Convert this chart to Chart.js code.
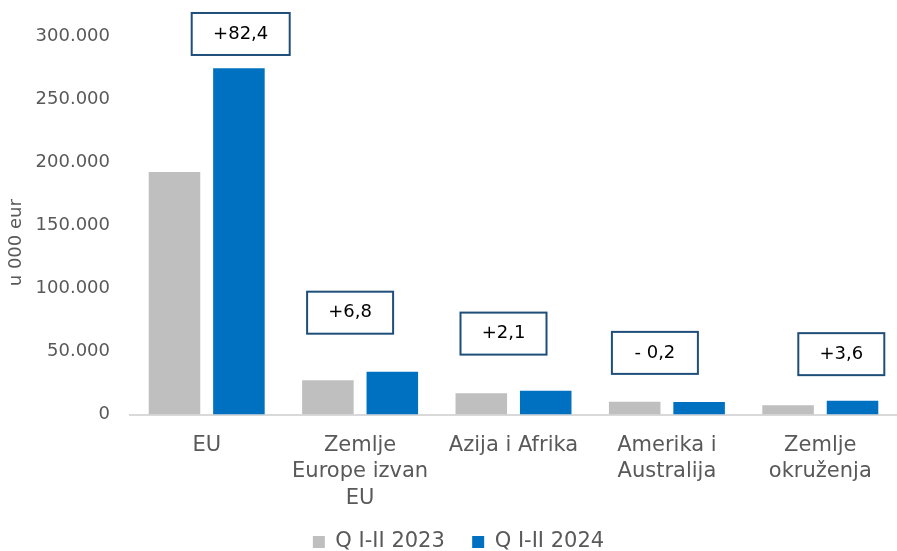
<!DOCTYPE html>
<html>
<head>
<meta charset="utf-8">
<script src="https://cdn.jsdelivr.net/npm/chart.js@4.4.1/dist/chart.umd.min.js"></script>
<style>
  html, body { margin: 0; padding: 0; background: #fff; }
  #wrap { width: 897px; height: 551px; }
</style>
</head>
<body>
<div id="wrap"><canvas id="chart"></canvas></div>
<script>
// regions (multi-line labels as in the original)
var categories = [
    'EU',
    ['Zemlje', 'Europe izvan', 'EU'],
    'Azija i Afrika',
    ['Amerika i', 'Australija'],
    ['Zemlje', 'okruženja']
];
// u 000 eur
var q2023 = [192400, 27100, 16800, 10200, 7300];
var q2024 = [274800, 33900, 18900, 10000, 10900];
var seriesNames = ['Q I-II 2023', 'Q I-II 2024'];
// change labels shown in boxes above each group
var changes = ['+82,4', '+6,8', '+2,1', '- 0,2', '+3,6'];

// where the boxes sit: shift from group centre (px) and height in axis units
var boxShift = [34, -10, -10, -12, 21];
var boxLevel = [302000, 80800, 64200, 48900, 47900];
var boxWidth = [98, 86, 86, 86, 86];

var FONT = "'DejaVu Sans', Verdana, sans-serif";
var grey = '#595959';

function fmt(v) {
    return v.toString().replace(/\B(?=(\d{3})+(?!\d))/g, '.');
}

var changeBoxes = {
    id: 'changeBoxes',
    afterLayout: function(chart) {
        // legend in the original sits a little right of the page centre
        chart.legend.left += 10;
        chart.legend.right += 10;
    },
    afterDatasetsDraw: function(chart) {
        var ctx = chart.ctx;
        var xs = chart.scales.x, ys = chart.scales.y;
        ctx.save();
        ctx.font = '18px ' + FONT;
        ctx.textAlign = 'center';
        ctx.textBaseline = 'middle';
        for (var i = 0; i < changes.length; i++) {
            var cx = xs.getPixelForValue(i) + boxShift[i];
            var cy = ys.getPixelForValue(boxLevel[i]);
            var w = boxWidth[i], h = 42;
            ctx.fillStyle = '#fff';
            ctx.fillRect(cx - w/2, cy - h/2, w, h);
            ctx.lineWidth = 2;
            ctx.strokeStyle = '#1F4E79';
            ctx.strokeRect(cx - w/2, cy - h/2, w, h);
            ctx.fillStyle = '#000';
            ctx.fillText(changes[i], cx, cy);
        }
        ctx.restore();
    }
};

var ctx = document.getElementById('chart').getContext('2d');
var chart = new Chart(ctx, {
    type: 'bar',
    data: {
        labels: categories,
        datasets: [{
            label: seriesNames[0],
            data: q2023,
            backgroundColor: '#BFBFBF'
        }, {
            label: seriesNames[1],
            data: q2024,
            backgroundColor: '#0070C0'
        }]
    },
    plugins: [changeBoxes],
    options: {
        responsive: true,
        maintainAspectRatio: false,
        animation: false,
        categoryPercentage: 0.84,
        barPercentage: 0.8,
        layout: {
            padding: { top: 36.5, right: 0, left: 0, bottom: -11.5 }
        },
        plugins: {
            tooltip: { enabled: false },
            legend: {
                position: 'bottom',
                labels: {
                    boxWidth: 12,
                    boxHeight: 12,
                    padding: 14,
                    color: grey,
                    font: { family: FONT, size: 21 },
                    generateLabels: function(chart) {
                        var items = Chart.defaults.plugins.legend.labels.generateLabels(chart);
                        // wider gap between the two entries, like the original
                        items[0].text += '  ';
                        return items;
                    }
                }
            }
        },
        scales: {
            x: {
                grid: { display: false, drawTicks: false },
                border: { display: true, color: '#D9D9D9', width: 2 },
                ticks: {
                    color: grey,
                    padding: 18,
                    maxRotation: 0,
                    autoSkip: false,
                    font: { family: FONT, size: 21, lineHeight: 1.25 }
                },
                afterFit: function(scale) { scale.height = 103; }
            },
            y: {
                min: 0,
                max: 300000,
                grid: { display: false, drawTicks: false },
                border: { display: false },
                ticks: {
                    stepSize: 50000,
                    color: grey,
                    padding: 20,
                    font: { family: FONT, size: 18 },
                    callback: function(v) { return fmt(v); }
                },
                title: {
                    display: true,
                    // trailing spaces push the title a bit below the axis middle, as in the original
                    text: 'u 000 eur      ',
                    color: grey,
                    padding: { top: 6, bottom: 0 },
                    font: { family: FONT, size: 18 }
                },
                afterFit: function(scale) { scale.width = 130; }
            }
        }
    }
});
</script>
</body>
</html>
